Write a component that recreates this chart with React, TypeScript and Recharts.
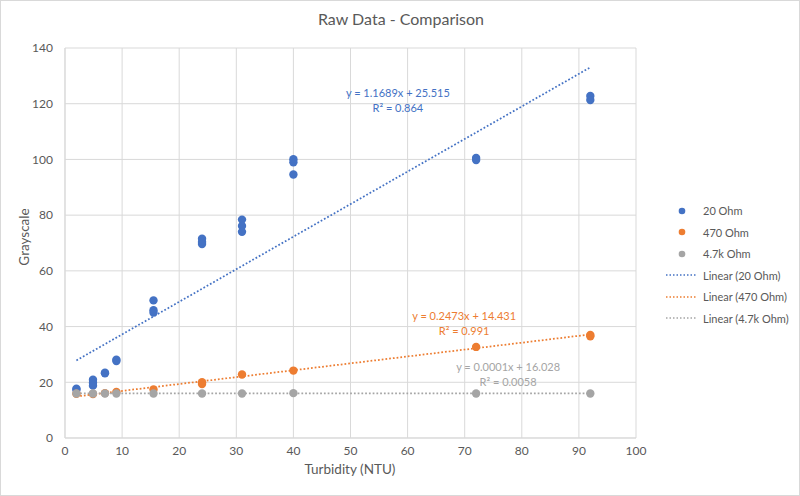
import { ScatterChart, Scatter, XAxis, YAxis, CartesianGrid, ReferenceLine, ReferenceDot } from "recharts";

const FONT = "Lato, 'Open Sans', sans-serif";
const TEXT = "#595959";
const GRID = "#d9d9d9";

const xTicks = [0, 10, 20, 30, 40, 50, 60, 70, 80, 90, 100];
const yTicks = [0, 20, 40, 60, 80, 100, 120, 140];

// grayscale readings per resistor, turbidity in NTU
const ohm20 = [
  { x: 2, y: 17.7 }, { x: 2, y: 17.3 },
  { x: 4.9, y: 20.9 }, { x: 4.9, y: 19.8 }, { x: 4.9, y: 18.8 },
  { x: 7, y: 23.2 }, { x: 7, y: 23.4 },
  { x: 9, y: 27.6 }, { x: 9, y: 28.1 },
  { x: 15.5, y: 49.4 }, { x: 15.5, y: 45.9 }, { x: 15.5, y: 45.0 },
  { x: 24, y: 71.5 }, { x: 24, y: 70.4 }, { x: 24, y: 69.6 },
  { x: 31, y: 78.4 }, { x: 31, y: 76.1 }, { x: 31, y: 74.0 },
  { x: 40, y: 100.1 }, { x: 40, y: 99.0 }, { x: 40, y: 94.6 },
  { x: 72, y: 100.5 }, { x: 72, y: 99.8 },
  { x: 92, y: 122.8 }, { x: 92, y: 121.3 },
];
const ohm470 = [
  { x: 2, y: 15.9 }, { x: 4.9, y: 15.8 }, { x: 7, y: 16.1 }, { x: 9, y: 16.5 },
  { x: 15.5, y: 17.4 }, { x: 24, y: 19.4 }, { x: 24, y: 20.0 },
  { x: 31, y: 22.8 }, { x: 40, y: 24.2 }, { x: 72, y: 32.7 },
  { x: 92, y: 37.0 }, { x: 92, y: 36.5 },
];
const ohm4k7 = [
  { x: 2, y: 16.0 }, { x: 4.9, y: 16.0 }, { x: 7, y: 16.0 }, { x: 9, y: 16.0 },
  { x: 15.5, y: 16.0 }, { x: 24, y: 16.0 }, { x: 31, y: 16.0 }, { x: 40, y: 16.1 },
  { x: 72, y: 16.0 }, { x: 92, y: 16.0 },
];

// linear fits as printed on the chart
const fitRange = [2, 92];
const series = [
  { name: "20 Ohm", data: ohm20, color: "#4472C4", slope: 1.1689, intercept: 25.515, r2: "0.864", at: { x: 58.3, y: 123.4 } },
  { name: "470 Ohm", data: ohm470, color: "#ED7D31", slope: 0.2473, intercept: 14.431, r2: "0.991", at: { x: 69.9, y: 43.3 } },
  { name: "4.7k Ohm", data: ohm4k7, color: "#A5A5A5", slope: 0.0001, intercept: 16.028, r2: "0.0058", at: { x: 77.6, y: 25.2 } },
];

const fitY = (s: (typeof series)[number], x: number) => s.slope * x + s.intercept;

const Marker = (color: string) => (props: any) => <circle cx={props.cx} cy={props.cy} r={4.2} fill={color} />;

const FitLabel = (s: (typeof series)[number]) => (props: any) => (
  <g fontFamily={FONT} fontSize={11} fill={s.color} textAnchor="middle">
    <text x={props.cx} y={props.cy} dominantBaseline="middle">
      {`y = ${s.slope}x + ${s.intercept}`}
    </text>
    <text x={props.cx} y={props.cy + 15} dominantBaseline="middle">
      R² = {s.r2}
    </text>
  </g>
);

function Legend() {
  const rows = [
    ...series.map((s) => ({ label: s.name, color: s.color, line: false })),
    ...series.map((s) => ({ label: `Linear (${s.name})`, color: s.color, line: true })),
  ];
  return (
    <div style={{ position: "absolute", left: 664, top: 200, fontFamily: FONT, fontSize: 11, color: TEXT }}>
      {rows.map((r) => (
        <div key={r.label} style={{ display: "flex", alignItems: "center", height: 21.5 }}>
          <svg width={36} height={10} style={{ marginRight: 3 }}>
            {r.line ? (
              <line x1={2} x2={33} y1={5} y2={5} stroke={r.color} strokeWidth={1.5} strokeDasharray="1.5 2" />
            ) : (
              <circle cx={18} cy={5} r={3.3} fill={r.color} />
            )}
          </svg>
          <span>{r.label}</span>
        </div>
      ))}
    </div>
  );
}

export default function App() {
  return (
    <div
      style={{
        position: "fixed",
        left: 0,
        top: 0,
        width: 800,
        height: 496,
        background: "#fff",
        boxShadow: "inset 0 0 0 1px #d9d9d9",
      }}
    >
      <ScatterChart width={800} height={496} margin={{ top: 48, right: 164, bottom: 28, left: 5 }}>
        <CartesianGrid stroke={GRID} strokeWidth={1} />
        <XAxis
          type="number"
          dataKey="x"
          domain={[0, 100]}
          ticks={xTicks}
          height={30}
          stroke={GRID}
          tickLine={false}
          tickMargin={2}
          tick={{ fill: TEXT, fontSize: 12, fontFamily: FONT }}
        />
        <YAxis
          type="number"
          dataKey="y"
          domain={[0, 140]}
          ticks={yTicks}
          width={60}
          stroke={GRID}
          tickLine={false}
          tickMargin={6}
          tick={{ fill: TEXT, fontSize: 12, fontFamily: FONT }}
        />
        {series.map((s) => (
          <ReferenceLine
            key={`fit-${s.name}`}
            segment={[
              { x: fitRange[0], y: fitY(s, fitRange[0]) },
              { x: fitRange[1], y: fitY(s, fitRange[1]) },
            ]}
            stroke={s.color}
            strokeWidth={1.75}
            strokeDasharray="1.75 2"
          />
        ))}
        {series.map((s) => (
          <Scatter key={s.name} name={s.name} data={s.data} fill={s.color} shape={Marker(s.color)} isAnimationActive={false} />
        ))}
        {series.map((s) => (
          <ReferenceDot key={`lbl-${s.name}`} x={s.at.x} y={s.at.y} r={0} shape={FitLabel(s)} />
        ))}
        <text x={401} y={21} textAnchor="middle" dominantBaseline="middle" fontFamily={FONT} fontSize={16} fill={TEXT}>
          Raw Data - Comparison
        </text>
        <text x={350} y={471} textAnchor="middle" dominantBaseline="middle" fontFamily={FONT} fontSize={13.5} fill={TEXT}>
          Turbidity (NTU)
        </text>
        <text
          x={26}
          y={237}
          textAnchor="middle"
          dominantBaseline="middle"
          fontFamily={FONT}
          fontSize={13.5}
          fill={TEXT}
          transform="rotate(-90 26 237)"
        >
          Grayscale
        </text>
      </ScatterChart>
      <Legend />
    </div>
  );
}
